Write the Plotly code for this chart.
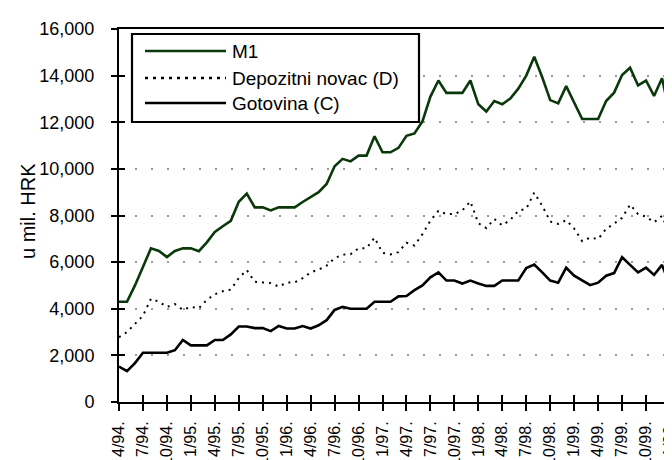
import plotly.graph_objects as go

# ---------------- data ----------------
start_month, start_year, n_months = 4, 94, 70
months = []
for k in range(n_months):
    m = (start_month - 1 + k) % 12 + 1
    y = (start_year + (start_month - 1 + k) // 12) % 100
    months.append(f"{m}/{y:02d}.")

tick_labels = ["4/94.", "7/94.", "10/94.", "1/95.", "4/95.", "7/95.", "10/95.", "1/96.",
               "4/96.", "7/96.", "10/96.", "1/97.", "4/97.", "7/97.", "10/97.", "1/98.",
               "4/98.", "7/98.", "10/98.", "1/99.", "4/99.", "7/99.", "10/99.", "1/00."]

m1 = [4300, 4300, 5000, 5770, 6590, 6480, 6220, 6480, 6590, 6590,
      6470, 6850, 7290, 7540, 7770, 8590, 8940, 8350, 8350, 8220,
      8350, 8350, 8350, 8580, 8790, 9000, 9350, 10110, 10430, 10320,
      10570, 10570, 11400, 10710, 10710, 10900, 11420, 11520, 12040, 13100,
      13790, 13260, 13260, 13260, 13790, 12770, 12460, 12910, 12770, 13020,
      13440, 14000, 14810, 13930, 12950, 12810, 13550, 12850, 12140, 12140,
      12140, 12910, 13270, 14030, 14340, 13580, 13790, 13130, 13890, 12320]

depozitni = [2780, 3000, 3350, 3700, 4430, 4300, 4080, 4200, 3950, 4080,
             4020, 4380, 4620, 4750, 4820, 5320, 5660, 5160, 5130, 5100,
             4950, 5120, 5130, 5310, 5560, 5680, 5850, 6170, 6320, 6340,
             6590, 6600, 7050, 6400, 6330, 6430, 6830, 6710, 7200, 7780,
             8200, 8060, 8060, 8220, 8600, 7670, 7460, 7850, 7580, 7810,
             8200, 8290, 8980, 8420, 7740, 7640, 7800, 7440, 6900, 7050,
             6990, 7430, 7650, 7900, 8470, 8060, 7950, 7710, 7980, 7200]

gotovina = [1520, 1320, 1670, 2110, 2110, 2110, 2110, 2220, 2660, 2430,
            2430, 2430, 2660, 2660, 2900, 3240, 3240, 3170, 3170, 3040,
            3260, 3150, 3150, 3260, 3150, 3290, 3510, 3950, 4080, 4000,
            4000, 4000, 4300, 4300, 4300, 4530, 4550, 4800, 5000, 5350,
            5560, 5210, 5210, 5080, 5210, 5080, 4980, 4980, 5210, 5210,
            5210, 5750, 5900, 5560, 5210, 5120, 5760, 5420, 5210, 5010,
            5120, 5420, 5530, 6210, 5880, 5560, 5760, 5450, 5880, 5000]

series_names = ["M1", "Depozitni novac (D)", "Gotovina (C)"]
y_ticks = [0, 2000, 4000, 6000, 8000, 10000, 12000, 14000, 16000]
y_title = "u mil. HRK"

# ---------------- style ----------------
FONT = "Liberation Sans, Arial, sans-serif"
GREEN = "#0a380a"
W, H = 672, 460
L, R, T, B = 111, 10, 21, 66
PW, PH = W - L - R, H - T - B


def px_x(px):
    return (px - L) / PW


def px_y(py):
    return (H - B - py) / PH


fig = go.Figure()
fig.add_trace(go.Scatter(x=months, y=m1, mode="lines", name=series_names[0],
                         line=dict(color=GREEN, width=2.6), showlegend=False))
fig.add_trace(go.Scatter(x=months, y=depozitni, mode="lines", name=series_names[1],
                         line=dict(color="black", width=2, dash="2px,5px"), showlegend=False))
# Gotovina is drawn on the overlay axes (identical scales) so that those axes
# render their inside ticks, giving the crossing tick marks of the original.
fig.add_trace(go.Scatter(x=months, y=gotovina, mode="lines", name=series_names[2],
                         xaxis="x2", yaxis="y2",
                         line=dict(color="black", width=2.6), showlegend=False))

common_x = dict(type="category", range=[0, n_months - 1], tickvals=tick_labels,
                ticktext=tick_labels, ticklen=7, tickwidth=2, tickcolor="black",
                showgrid=False, zeroline=False, automargin=False)
common_y = dict(range=[0, 16000], tickvals=y_ticks, ticklen=6, tickwidth=2,
                tickcolor="black", zeroline=False, automargin=False)

fig.update_layout(
    width=W, height=H,
    template="none",
    paper_bgcolor="white", plot_bgcolor="white",
    margin=dict(l=L, r=R, t=T, b=B, pad=0),
    font=dict(family=FONT, color="black"),
    xaxis=dict(
        **common_x, tickangle=-90, ticks="outside",
        tickfont=dict(size=16, family=FONT),
        showline=True, linewidth=2, linecolor="black", mirror=True,
        ticklabelstandoff=4,
    ),
    yaxis=dict(
        **common_y, tickformat=",", ticks="outside",
        tickfont=dict(size=18, family=FONT),
        showline=True, linewidth=2, linecolor="black", mirror=True,
        showgrid=True, gridcolor="#9a9a9a", gridwidth=1.5, griddash="2px,14px",
        ticklabelstandoff=13,
    ),
    xaxis2=dict(**common_x, overlaying="x", anchor="y2", side="bottom",
                ticks="inside", showticklabels=False, showline=False),
    yaxis2=dict(**common_y, overlaying="y", anchor="x2", side="left",
                ticks="inside", showticklabels=False, showline=False,
                showgrid=False),
    showlegend=False,
)

# y-axis title
fig.add_annotation(text=y_title, xref="paper", yref="paper",
                   x=px_x(20), y=px_y(203), textangle=-90, showarrow=False,
                   xanchor="center", yanchor="middle",
                   font=dict(size=20, family=FONT, color="black"))

# custom legend box
fig.add_shape(type="rect", xref="paper", yref="paper",
              x0=px_x(124), x1=px_x(411), y0=px_y(114), y1=px_y(26),
              line=dict(color="black", width=2.2), fillcolor="white", layer="above")
legend_rows = [(43, dict(color=GREEN, width=2.6)),
               (70, dict(color="black", width=2.4, dash="3px,5px")),
               (95, dict(color="black", width=2.6))]
for (py, ln), name in zip(legend_rows, series_names):
    fig.add_shape(type="line", xref="paper", yref="paper",
                  x0=px_x(137), x1=px_x(218), y0=px_y(py), y1=px_y(py),
                  line=ln, layer="above")
    fig.add_annotation(text=name, xref="paper", yref="paper",
                       x=px_x(222), y=px_y(py), showarrow=False,
                       xanchor="left", yanchor="middle",
                       font=dict(size=19, family=FONT, color="black"))

fig.write_html("out.html")
